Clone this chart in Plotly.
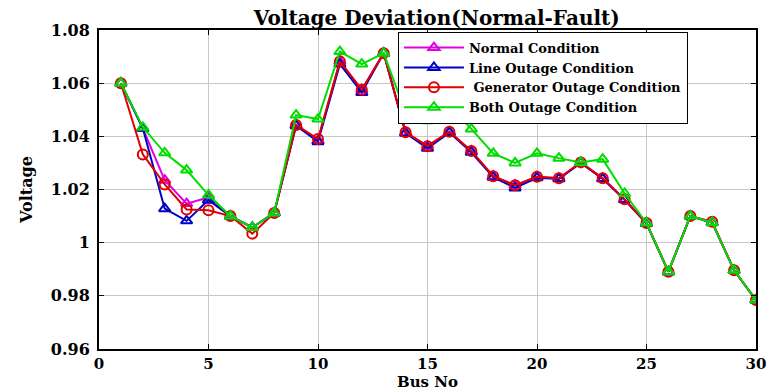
import plotly.graph_objects as go

# Bus numbers of the 30-bus system
bus_no = list(range(1, 31))

# Bus voltage magnitudes (p.u.) for each operating condition
normal_condition = [1.060, 1.043, 1.0235, 1.0147, 1.017, 1.010, 1.0057, 1.0112, 1.0443, 1.0385,
                    1.0682, 1.0575, 1.0713, 1.0415, 1.0363, 1.0417, 1.0345, 1.0250, 1.0216, 1.0248,
                    1.0242, 1.0302, 1.0242, 1.0163, 1.0074, 0.9891, 1.0100, 1.0076, 0.9896, 0.9784]
line_outage = [1.060, 1.043, 1.0128, 1.0082, 1.016, 1.010, 1.0057, 1.0112, 1.0440, 1.0380,
               1.0672, 1.0565, 1.0713, 1.0412, 1.0355, 1.0414, 1.0340, 1.0246, 1.0206, 1.0244,
               1.0240, 1.0300, 1.0240, 1.0161, 1.0072, 0.9890, 1.0100, 1.0075, 0.9896, 0.9784]
generator_outage = [1.060, 1.0332, 1.0219, 1.0125, 1.0122, 1.010, 1.0034, 1.0112, 1.0443, 1.0390,
                    1.0682, 1.0575, 1.0713, 1.0415, 1.0363, 1.0417, 1.0345, 1.0250, 1.0216, 1.0248,
                    1.0242, 1.0302, 1.0242, 1.0163, 1.0074, 0.9891, 1.0100, 1.0079, 0.9896, 0.9784]
both_outage = [1.060, 1.0434, 1.0338, 1.0273, 1.0179, 1.010, 1.0057, 1.0112, 1.0480, 1.0465,
               1.0719, 1.0672, 1.0713, 1.0489, 1.0459, 1.0515, 1.0428, 1.0336, 1.0300, 1.0336,
               1.0318, 1.0302, 1.0314, 1.0185, 1.0074, 0.9891, 1.0100, 1.0076, 0.9896, 0.9784]

series_names = ["Normal Condition", "Line Outage Condition",
                " Generator Outage Condition", "Both Outage Condition"]

y_ticks = [0.96, 0.98, 1.0, 1.02, 1.04, 1.06, 1.08]
y_tick_text = ["0.96", "0.98", "1", "1.02", "1.04", "1.06", "1.08"]
x_ticks = [0, 5, 10, 15, 20, 25, 30]

font_family = "DejaVu Serif, serif"

fig = go.Figure()

styles = [
    ("#e000e0", "triangle-up-open"),
    ("#0000c8", "triangle-up-open"),
    ("#e00000", "circle-open"),
    ("#00dd00", "triangle-up-open"),
]
for name, values, (color, symbol) in zip(series_names,
                                         [normal_condition, line_outage, generator_outage, both_outage],
                                         styles):
    fig.add_trace(go.Scatter(
        x=bus_no, y=values, name=f"<b>{name}</b>", mode="lines+markers",
        line=dict(color=color, width=2),
        marker=dict(symbol=symbol, size=10, color=color, line=dict(width=2, color=color)),
    ))

fig.update_layout(
    width=769, height=391,
    margin=dict(l=99, r=13, t=30, b=42, autoexpand=False),
    paper_bgcolor="white", plot_bgcolor="white",
    font=dict(family=font_family, size=15, color="black"),
    title=dict(text="<b>Voltage Deviation(Normal-Fault)</b>", x=0.568, xanchor="center",
               y=0.955, yanchor="middle", font=dict(size=20, family=font_family, color="black")),
    showlegend=True,
    legend=dict(x=0.455, y=0.995, xanchor="left", yanchor="top",
                bgcolor="white", bordercolor="black", borderwidth=1,
                font=dict(size=13, family=font_family, color="black"),
                tracegroupgap=0, itemwidth=60),
)

fig.update_xaxes(
    range=[0, 30], tickvals=x_ticks, ticktext=[f"<b>{t}</b>" for t in x_ticks],
    showgrid=True, gridcolor="#c8c8c8", gridwidth=1,
    showline=True, linecolor="black", linewidth=2, mirror="ticks",
    ticks="inside", ticklen=5, tickcolor="black", zeroline=False, automargin=False,
    title=dict(text="<b>Bus No</b>", standoff=8, font=dict(size=15, family=font_family)),
    tickfont=dict(size=15, family=font_family),
)
fig.update_yaxes(
    range=[0.96, 1.08], tickvals=y_ticks, ticktext=[f"<b>{t}</b>" for t in y_tick_text],
    showgrid=True, gridcolor="#c8c8c8", gridwidth=1,
    showline=True, linecolor="black", linewidth=2, mirror="ticks",
    ticks="inside", ticklen=5, tickcolor="black", zeroline=False, automargin=False,
    ticklabelstandoff=4,
    title=dict(text="<b>Voltage</b>", standoff=14, font=dict(size=16, family=font_family)),
    tickfont=dict(size=16, family=font_family),
)

fig.write_html("out.html")
